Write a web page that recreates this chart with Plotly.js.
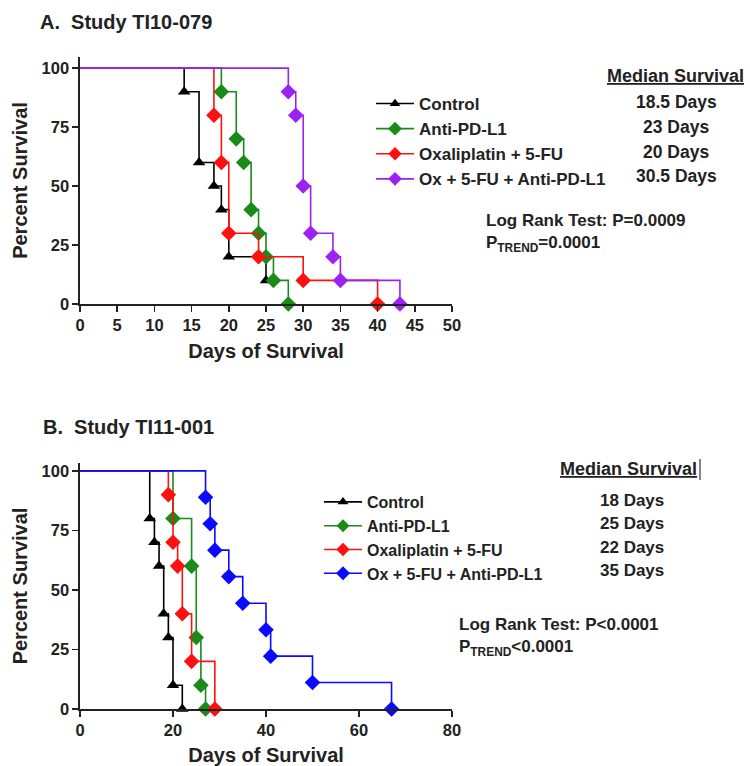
<!DOCTYPE html>
<html>
<head>
<meta charset="utf-8">
<script src="https://cdn.plot.ly/plotly-3.0.1.min.js"></script>
<style>
html,body{margin:0;padding:0;background:#fff;}
#chart{width:750px;height:766px;}
</style>
</head>
<body>
<div id="chart"></div>
<script>
// ---------- DATA ----------
const seriesNames = ["Control", "Anti-PD-L1", "Oxaliplatin + 5-FU", "Ox + 5-FU + Anti-PD-L1"];

// Study A (TI10-079)
const daysA_control = [0, 14, 16, 18, 19, 20, 25];
const survA_control = [100, 90, 60, 50, 40, 20, 10];
const daysA_anti = [0, 19, 21, 22, 23, 24, 25, 26, 28];
const survA_anti = [100, 90, 70, 60, 40, 30, 20, 10, 0];
const daysA_oxa = [0, 18, 19, 20, 24, 30, 40];
const survA_oxa = [100, 80, 60, 30, 20, 10, 0];
const daysA_combo = [0, 28, 29, 30, 31, 34, 35, 43];
const survA_combo = [100, 90, 80, 50, 30, 20, 10, 0];
const medianA = ["18.5 Days", "23 Days", "20 Days", "30.5 Days"];

// Study B (TI11-001)
const daysB_control = [0, 15, 16, 17, 18, 19, 20, 22];
const survB_control = [100, 80, 70, 60, 40, 30, 10, 0];
const daysB_anti = [0, 20, 24, 25, 26, 27];
const survB_anti = [100, 80, 60, 30, 10, 0];
const daysB_oxa = [0, 19, 20, 21, 22, 24, 29];
const survB_oxa = [100, 90, 70, 60, 40, 20, 0];
const daysB_combo = [0, 27, 28, 29, 32, 35, 40, 41, 50, 67];
const survB_combo = [100, 88.9, 77.8, 66.7, 55.6, 44.4, 33.3, 22.2, 11.1, 0];
const medianB = ["18 Days", "25 Days", "22 Days", "35 Days"];

const ticksA = [0, 5, 10, 15, 20, 25, 30, 35, 40, 45, 50];
const ticksB = [0, 20, 40, 60, 80];
const ticksY = [0, 25, 50, 75, 100];

// ---------- STYLE ----------
const W = 750, H = 766;
const FONT = "Liberation Sans, Arial, sans-serif";
const TXT = "#222222";
const colorsA = ["#000000", "#1a8a1a", "#ff1010", "#9b22f0"];
const colorsB = ["#000000", "#1a8a1a", "#ff1010", "#0a0aff"];
const symbols = ["triangle-up", "diamond", "diamond", "diamond"];
const px = x => x / W;
const py = y => 1 - y / H;

function km(x, y, i, colors, xa, ya, legend) {
  return {
    type: "scatter", mode: "lines+markers",
    x: x, y: y, xaxis: xa, yaxis: ya, legend: legend,
    name: seriesNames[i], legendgroup: legend + i,
    line: {shape: "hv", color: colors[i], width: 1.6},
    marker: {symbol: symbols[i], color: colors[i], opacity: 1,
             size: x.map((v, k) => k === 0 ? 0 : (symbols[i] === "triangle-up" ? 11 : 12)),
             line: {width: 0}},
    cliponaxis: false
  };
}

const traces = [
  km(daysA_control, survA_control, 0, colorsA, "x", "y", "legend"),
  km(daysA_anti, survA_anti, 1, colorsA, "x", "y", "legend"),
  km(daysA_oxa, survA_oxa, 2, colorsA, "x", "y", "legend"),
  km(daysA_combo, survA_combo, 3, colorsA, "x", "y", "legend"),
  km(daysB_control, survB_control, 0, colorsB, "x2", "y2", "legend2"),
  km(daysB_anti, survB_anti, 1, colorsB, "x2", "y2", "legend2"),
  km(daysB_oxa, survB_oxa, 2, colorsB, "x2", "y2", "legend2"),
  km(daysB_combo, survB_combo, 3, colorsB, "x2", "y2", "legend2")
];

const tickFont = {family: FONT, size: 16.5, color: TXT, weight: "bold"};
const titleFont = {family: FONT, size: 20, color: TXT, weight: "bold"};

function xax(domain, range, ticks) {
  return {domain: domain, range: range, tickvals: ticks, ticktext: ticks.map(String),
    showline: true, linecolor: TXT, linewidth: 1.6, ticks: "outside", ticklen: 6,
    tickwidth: 1.6, tickcolor: TXT, showgrid: false, zeroline: false, tickfont: tickFont,
    fixedrange: true,
    title: {text: "Days of Survival", font: titleFont, standoff: 10}};
}
function yax(domain, range, anchor) {
  return {domain: domain, range: range, anchor: anchor, tickvals: ticksY, ticktext: ticksY.map(String),
    showline: true, linecolor: TXT, linewidth: 1.6, ticks: "outside", ticklen: 6,
    tickwidth: 1.6, tickcolor: TXT, showgrid: false, zeroline: false, tickfont: tickFont,
    fixedrange: true,
    title: {text: "Percent Survival", font: titleFont, standoff: 8}};
}

const legFontA = {family: FONT, size: 17, color: TXT, weight: "bold"};
const legFontB = {family: FONT, size: 16, color: TXT, weight: "bold"};

const ann = [];
function txt(x, y, text, size, anchor) {
  ann.push({xref: "paper", yref: "paper", x: px(x), y: py(y), text: text, showarrow: false,
    xanchor: anchor || "left", yanchor: "middle",
    font: {family: FONT, size: size, color: TXT, weight: "bold"}});
}
txt(38, 22, "A.  Study TI10-079", 20);
txt(41, 427, "B.  Study TI11-001", 20);
txt(605, 76, "<u>Median Survival</u>", 18);
txt(558, 469, "<u>Median Survival</u>", 18);
const rowsA = [102, 127, 152, 176];
const rowsB = [500, 523, 547, 570];
medianA.forEach((m, i) => txt(676, rowsA[i], m, 17.5, "center"));
medianB.forEach((m, i) => txt(598, rowsB[i], m, 17, "left"));
txt(484, 221, "Log Rank Test: P=0.0009", 17);
txt(484, 244, "P<sub>TREND</sub>=0.0001", 17);
txt(457, 624, "Log Rank Test: P<0.0001", 17);
txt(457, 648, "P<sub>TREND</sub><0.0001", 17);

const layout = {
  width: W, height: H,
  margin: {l: 0, r: 0, t: 0, b: 0},
  paper_bgcolor: "#ffffff", plot_bgcolor: "#ffffff",
  font: {family: FONT, color: TXT},
  showlegend: true,
  xaxis: Object.assign(xax([px(80), px(452)], [0, 50], ticksA), {anchor: "y"}),
  yaxis: yax([py(304), py(57)], [0, 104.7], "x"),
  xaxis2: Object.assign(xax([px(80), px(452)], [0, 80], ticksB), {anchor: "y2"}),
  yaxis2: yax([py(709), py(463)], [0, 103.3], "x2"),
  legend: {x: px(371), y: py(86), xanchor: "left", yanchor: "top", font: legFontA,
    bgcolor: "rgba(0,0,0,0)", borderwidth: 0, tracegroupgap: 0, itemwidth: 38,
    itemclick: false, itemdoubleclick: false},
  legend2: {x: px(319), y: py(485), xanchor: "left", yanchor: "top", font: legFontB,
    bgcolor: "rgba(0,0,0,0)", borderwidth: 0, tracegroupgap: 0, itemwidth: 38,
    itemclick: false, itemdoubleclick: false},
  annotations: ann,
  shapes: [{type: "line", xref: "paper", yref: "paper", x0: px(700), x1: px(700),
    y0: py(459), y1: py(480), line: {color: "#333", width: 1.2}}]
};

Plotly.newPlot("chart", traces, layout, {displayModeBar: false, staticPlot: true});
</script>
</body>
</html>
